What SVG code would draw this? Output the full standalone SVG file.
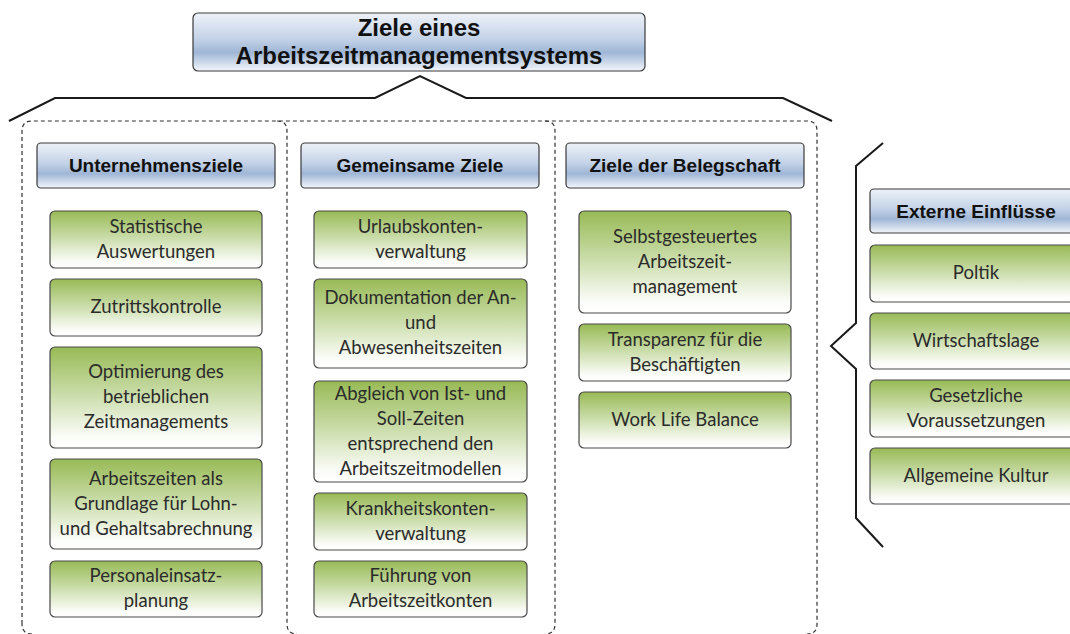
<svg xmlns="http://www.w3.org/2000/svg" width="1070" height="634" viewBox="0 0 1070 634">
<defs>
<linearGradient id="gBlue" x1="0" y1="0" x2="0" y2="1">
<stop offset="0" stop-color="#eef2f8"/>
<stop offset="0.45" stop-color="#c3d2e7"/>
<stop offset="0.68" stop-color="#9fb6d6"/>
<stop offset="1" stop-color="#f3f6fb"/>
</linearGradient>
<linearGradient id="gGreen" x1="0" y1="0" x2="0" y2="1">
<stop offset="0" stop-color="#98ba55"/>
<stop offset="0.45" stop-color="#c8dba6"/>
<stop offset="0.9" stop-color="#fcfdfa"/>
<stop offset="1" stop-color="#ffffff"/>
</linearGradient>
<style>
.hdr{fill:url(#gBlue);stroke:#3a3a3a;stroke-width:1.2}
.grn{fill:url(#gGreen);stroke:#4a4a4a;stroke-width:1.2}
.ht{font-family:"Liberation Sans",Arial,sans-serif;font-weight:bold;font-size:19px;fill:#111;text-anchor:middle}
.tt{font-family:"Liberation Sans",Arial,sans-serif;font-weight:bold;font-size:24px;fill:#111;text-anchor:middle}
.gt{font-family:Lato,"Open Sans",sans-serif;font-size:18.5px;fill:#2b2b2b;text-anchor:middle}
.dash{fill:none;stroke:#333;stroke-width:1.2;stroke-dasharray:4 3}
.br{fill:none;stroke:#1a1a1a;stroke-width:2;stroke-linejoin:miter}
</style>
</defs>
<rect width="1070" height="634" fill="#ffffff"/>

<g id="connectors">
<path class="br" d="M9,121 L55,98 L375,98 L420,76 L466,98 L783,98 L832,121"/>
<path class="br" d="M883,143 L856,166 L856,323 L831,346 L856,369 L856,518 L883,547"/>
<path class="dash" d="M22,624 L22,131 Q22,121 32,121 L807,121 Q817,121 817,131 L817,624 Q817,634 807,634"/>
<path class="dash" d="M32,634 Q22,634 22,624"/>
<path class="dash" d="M277,121 Q287,121 287,131 L287,624 Q287,634 297,634"/>
<path class="dash" d="M545,121 Q555,121 555,131 L555,624 Q555,634 545,634"/>
</g>

<g id="title">
<rect class="hdr" x="193" y="13" width="452" height="58" rx="5"/>
<text class="tt" x="419" y="36">Ziele eines</text>
<text class="tt" x="419" y="64">Arbeitszeitmanagementsystems</text>
</g>

<g id="h-unternehmen">
<rect class="hdr" x="37" y="143" width="238" height="45" rx="4"/>
<text class="ht" x="156" y="172">Unternehmensziele</text>
</g>
<g id="h-gemeinsam">
<rect class="hdr" x="301" y="143" width="238" height="45" rx="4"/>
<text class="ht" x="420" y="172">Gemeinsame Ziele</text>
</g>
<g id="h-belegschaft">
<rect class="hdr" x="566" y="143" width="238" height="45" rx="4"/>
<text class="ht" x="685" y="172">Ziele der Belegschaft</text>
</g>
<g id="h-extern">
<rect class="hdr" x="870" y="189" width="212" height="44" rx="4"/>
<text class="ht" x="976" y="218">Externe Einflüsse</text>
</g>

<!-- Column 1 -->
<g id="u1">
<rect class="grn" x="50" y="211" width="212" height="57" rx="5"/>
<text class="gt" x="156" y="233">Statistische</text>
<text class="gt" x="156" y="258">Auswertungen</text>
</g>
<g id="u2">
<rect class="grn" x="50" y="279" width="212" height="57" rx="5"/>
<text class="gt" x="156" y="313">Zutrittskontrolle</text>
</g>
<g id="u3">
<rect class="grn" x="50" y="347" width="212" height="101" rx="5"/>
<text class="gt" x="156" y="378">Optimierung des</text>
<text class="gt" x="156" y="403">betrieblichen</text>
<text class="gt" x="156" y="428">Zeitmanagements</text>
</g>
<g id="u4">
<rect class="grn" x="50" y="459" width="212" height="90" rx="5"/>
<text class="gt" x="156" y="485">Arbeitszeiten als</text>
<text class="gt" x="156" y="510">Grundlage für Lohn-</text>
<text class="gt" x="156" y="535">und Gehaltsabrechnung</text>
</g>
<g id="u5">
<rect class="grn" x="50" y="561" width="212" height="56" rx="5"/>
<text class="gt" x="156" y="582">Personaleinsatz-</text>
<text class="gt" x="156" y="607">planung</text>
</g>

<!-- Column 2 -->
<g id="g1">
<rect class="grn" x="314" y="211" width="213" height="57" rx="5"/>
<text class="gt" x="420.5" y="233">Urlaubskonten-</text>
<text class="gt" x="420.5" y="258">verwaltung</text>
</g>
<g id="g2">
<rect class="grn" x="314" y="279" width="213" height="89" rx="5"/>
<text class="gt" x="420.5" y="304">Dokumentation der An-</text>
<text class="gt" x="420.5" y="329">und</text>
<text class="gt" x="420.5" y="354">Abwesenheitszeiten</text>
</g>
<g id="g3">
<rect class="grn" x="314" y="381" width="213" height="101" rx="5"/>
<text class="gt" x="420.5" y="399.5">Abgleich von Ist- und</text>
<text class="gt" x="420.5" y="424.5">Soll-Zeiten</text>
<text class="gt" x="420.5" y="449.5">entsprechend den</text>
<text class="gt" x="420.5" y="474.5">Arbeitszeitmodellen</text>
</g>
<g id="g4">
<rect class="grn" x="314" y="493" width="213" height="57" rx="5"/>
<text class="gt" x="420.5" y="515">Krankheitskonten-</text>
<text class="gt" x="420.5" y="540">verwaltung</text>
</g>
<g id="g5">
<rect class="grn" x="314" y="561" width="213" height="56" rx="5"/>
<text class="gt" x="420.5" y="582">Führung von</text>
<text class="gt" x="420.5" y="607">Arbeitszeitkonten</text>
</g>

<!-- Column 3 -->
<g id="b1">
<rect class="grn" x="579" y="211" width="212" height="102" rx="5"/>
<text class="gt" x="685" y="243">Selbstgesteuertes</text>
<text class="gt" x="685" y="268">Arbeitszeit-</text>
<text class="gt" x="685" y="293">management</text>
</g>
<g id="b2">
<rect class="grn" x="579" y="324" width="212" height="57" rx="5"/>
<text class="gt" x="685" y="346">Transparenz für die</text>
<text class="gt" x="685" y="371">Beschäftigten</text>
</g>
<g id="b3">
<rect class="grn" x="579" y="392" width="212" height="56" rx="5"/>
<text class="gt" x="685" y="426">Work Life Balance</text>
</g>

<!-- External -->
<g id="e1">
<rect class="grn" x="870" y="245" width="212" height="57" rx="5"/>
<text class="gt" x="976" y="279">Poltik</text>
</g>
<g id="e2">
<rect class="grn" x="870" y="313" width="212" height="56" rx="5"/>
<text class="gt" x="976" y="347">Wirtschaftslage</text>
</g>
<g id="e3">
<rect class="grn" x="870" y="380" width="212" height="57" rx="5"/>
<text class="gt" x="976" y="402">Gesetzliche</text>
<text class="gt" x="976" y="427">Voraussetzungen</text>
</g>
<g id="e4">
<rect class="grn" x="870" y="448" width="212" height="56" rx="5"/>
<text class="gt" x="976" y="482">Allgemeine Kultur</text>
</g>
</svg>
